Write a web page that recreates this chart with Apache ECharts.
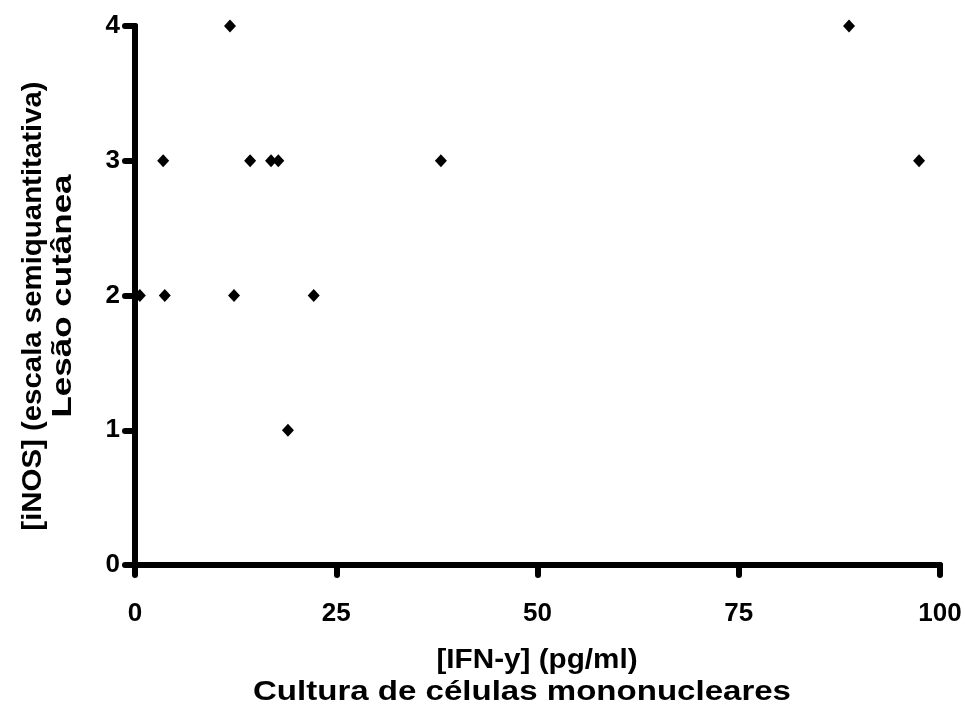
<!DOCTYPE html>
<html>
<head>
<meta charset="utf-8">
<script src="https://cdn.jsdelivr.net/npm/echarts@6/dist/echarts.min.js"></script>
<style>
  html, body { margin: 0; padding: 0; background: #fff; }
  #chart { width: 965px; height: 706px; }
</style>
</head>
<body>
<div id="chart"></div>
<script>
// IFN-y concentration (pg/ml) per sample
const ifnGamma = [11.8, 88.7, 3.5, 14.3, 16.9, 17.8, 38.0, 97.4, 0.6, 3.7, 12.3, 22.2, 19.0];
// iNOS semiquantitative score in the cutaneous lesion
const inosScore = [4, 4, 3, 3, 3, 3, 3, 3, 2, 2, 2, 2, 1];

const xTicks = [0, 25, 50, 75, 100];
const yTicks = [0, 1, 2, 3, 4];

const FONT = '"Liberation Sans", Arial, sans-serif';
const TITLE_FONT = 'bold 28px ' + FONT;
const points = ifnGamma.map((v, i) => [v, inosScore[i]]);

const chart = echarts.init(document.getElementById('chart'), null, { renderer: 'canvas' });

const axisCommon = {
  axisLine: { show: true, onZero: false, lineStyle: { color: '#000', width: 6, cap: 'round' } },
  axisTick: { show: true, inside: false, length: 10, lineStyle: { color: '#000', width: 6, cap: 'round' } },
  splitLine: { show: false },
  axisLabel: { color: '#000', fontFamily: FONT, fontWeight: 'bold', fontSize: 26 }
};

function title(text, x, y, rotation, scale) {
  return {
    type: 'text', x: x, y: y, rotation: rotation,
    scaleX: scale, scaleY: 1,
    style: { text: text, font: TITLE_FONT, fill: '#000', textAlign: 'center', textVerticalAlign: 'middle' }
  };
}

chart.setOption({
  backgroundColor: '#fff',
  animation: false,
  grid: { left: 135, right: 25, top: 26, bottom: 141, containLabel: false },
  xAxis: Object.assign({}, axisCommon, {
    type: 'value',
    min: xTicks[0],
    max: xTicks[xTicks.length - 1],
    interval: 25,
    axisLabel: Object.assign({}, axisCommon.axisLabel, { margin: 36 })
  }),
  yAxis: Object.assign({}, axisCommon, {
    type: 'value',
    min: yTicks[0],
    max: yTicks[yTicks.length - 1],
    interval: 1,
    axisLabel: Object.assign({}, axisCommon.axisLabel, { margin: 15 })
  }),
  graphic: [
    title('[IFN-y] (pg/ml)', 537, 660, 0, 1.06),
    title('Cultura de células mononucleares', 522, 692, 0, 1.18),
    title('[iNOS] (escala semiquantitativa)', 33, 306, Math.PI / 2, 1.05),
    title('Lesão cutânea', 63, 296, Math.PI / 2, 1.25)
  ],
  series: [{
    type: 'scatter',
    data: points,
    symbol: 'diamond',
    symbolSize: [12, 13],
    itemStyle: { color: '#000', opacity: 1 }
  }]
});
</script>
</body>
</html>
